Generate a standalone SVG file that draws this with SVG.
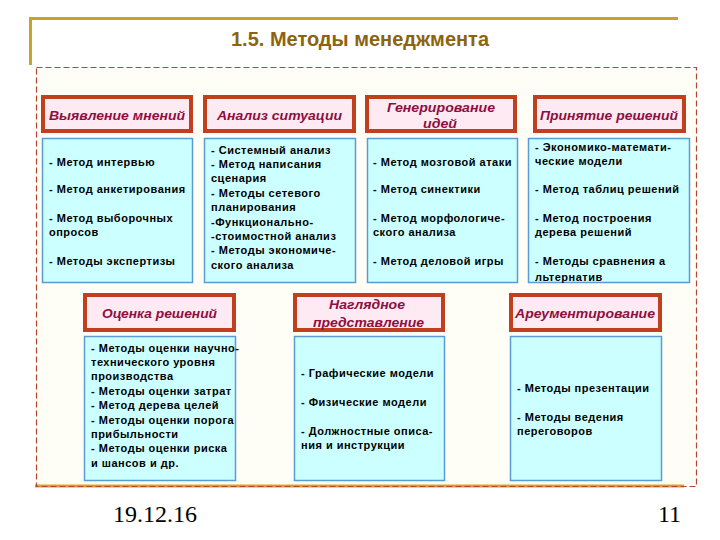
<svg xmlns="http://www.w3.org/2000/svg" width="720" height="540" viewBox="0 0 720 540">
<style>
.hdr{fill:#FDEAF2;stroke:#C0401E;stroke-width:4}
.hdt{font-family:"Liberation Sans",Arial,sans-serif;font-style:italic;font-weight:bold;font-size:13px;fill:#8E0E3E;text-anchor:middle}
.box{fill:#CCFFFF;stroke:#5B9BD5;stroke-width:1.5}
.bt{font-family:"Liberation Sans",Arial,sans-serif;font-weight:bold;font-size:11px;fill:#000;letter-spacing:0.5px}
.title{font-family:"Liberation Sans",Arial,sans-serif;font-weight:bold;font-size:20px;fill:#8C6410;text-anchor:middle}
.foot{font-family:"Liberation Serif","Times New Roman",serif;font-size:24px;fill:#000}
</style>
<rect width="720" height="540" fill="#FFFFFF"/>
<g id="frame">
<path d="M30.5 65 V18.5 H678" fill="none" stroke="#C9A227" stroke-width="3"/>
<rect x="36.5" y="67.5" width="660" height="419" fill="#FFFEF6" stroke="none"/>
<line x1="35" y1="486" x2="684" y2="486" stroke="#D9A030" stroke-width="3"/>
<rect x="36.5" y="67.5" width="660" height="419" fill="none" stroke="#B5472A" stroke-width="1.2" stroke-dasharray="6,3"/>
<text class="title" x="360" y="46" textLength="258" lengthAdjust="spacingAndGlyphs">1.5. Методы менеджмента</text>
</g>
<g id="connectors"/>
<g id="n1">
<rect class="hdr" x="43" y="97" width="148" height="34"/>
<text class="hdt" x="117" y="120" textLength="136" lengthAdjust="spacingAndGlyphs">Выявление мнений</text>
<rect class="box" x="42.5" y="138.5" width="150" height="144"/>
<text class="bt"><tspan x="49" y="166">- Метод интервью</tspan><tspan x="49" y="193">- Метод анкетирования</tspan><tspan x="49" y="222">- Метод выборочных</tspan><tspan x="49" y="236">опросов</tspan><tspan x="49" y="265">- Методы экспертизы</tspan></text>
</g>
<g id="n2">
<rect class="hdr" x="205" y="97" width="149" height="34"/>
<text class="hdt" x="279.5" y="120" textLength="125" lengthAdjust="spacingAndGlyphs">Анализ ситуации</text>
<rect class="box" x="204.5" y="138.5" width="151" height="144"/>
<text class="bt"><tspan x="211" y="154">- Системный анализ</tspan><tspan x="211" y="168">- Метод написания</tspan><tspan x="211" y="182">сценария</tspan><tspan x="211" y="197">- Методы сетевого</tspan><tspan x="211" y="211">планирования</tspan><tspan x="211" y="226">-Функционально-</tspan><tspan x="211" y="240">-стоимостной анализ</tspan><tspan x="211" y="254">- Методы экономиче-</tspan><tspan x="211" y="269">ского анализа</tspan></text>
</g>
<g id="n3">
<rect class="hdr" x="367" y="97" width="148" height="34"/>
<text class="hdt" x="441" y="111.5" textLength="108" lengthAdjust="spacingAndGlyphs">Генерирование</text>
<text class="hdt" x="440" y="127.5" textLength="34" lengthAdjust="spacingAndGlyphs">идей</text>
<rect class="box" x="367.5" y="138.5" width="150" height="144"/>
<text class="bt"><tspan x="373" y="166">- Метод мозговой атаки</tspan><tspan x="373" y="193">- Метод синектики</tspan><tspan x="373" y="222">- Метод морфологиче-</tspan><tspan x="373" y="236">ского анализа</tspan><tspan x="373" y="265">- Метод деловой игры</tspan></text>
</g>
<g id="n4">
<rect class="hdr" x="535" y="97" width="149" height="34"/>
<text class="hdt" x="609" y="120" textLength="138" lengthAdjust="spacingAndGlyphs">Принятие решений</text>
<rect class="box" x="528.5" y="138.5" width="161" height="144"/>
<text class="bt"><tspan x="535" y="151">- Экономико-математи-</tspan><tspan x="535" y="165">ческие модели</tspan><tspan x="535" y="193">- Метод таблиц решений</tspan><tspan x="535" y="222">- Метод построения</tspan><tspan x="535" y="236">дерева решений</tspan><tspan x="535" y="265">- Методы сравнения а</tspan><tspan x="535" y="281">льтернатив</tspan></text>
</g>
<g id="n5">
<rect class="hdr" x="85" y="295" width="149" height="35"/>
<text class="hdt" x="159.5" y="317.5" textLength="115" lengthAdjust="spacingAndGlyphs">Оценка решений</text>
<rect class="box" x="84.5" y="336.5" width="151" height="144"/>
<text class="bt"><tspan x="91" y="352">- Методы оценки научно-</tspan><tspan x="91" y="366">технического уровня</tspan><tspan x="91" y="380">производства</tspan><tspan x="91" y="395">- Методы оценки затрат</tspan><tspan x="91" y="409">- Метод дерева целей</tspan><tspan x="91" y="424">- Методы оценки порога</tspan><tspan x="91" y="438">прибыльности</tspan><tspan x="91" y="452">- Методы оценки риска</tspan><tspan x="91" y="467">и шансов и др.</tspan></text>
</g>
<g id="n6">
<rect class="hdr" x="295" y="295" width="148" height="35"/>
<text class="hdt" x="367" y="308.5" textLength="76" lengthAdjust="spacingAndGlyphs">Наглядное</text>
<text class="hdt" x="368.5" y="326.5" textLength="111" lengthAdjust="spacingAndGlyphs">представление</text>
<rect class="box" x="294.5" y="336.5" width="150" height="144"/>
<text class="bt"><tspan x="301" y="377">- Графические модели</tspan><tspan x="301" y="406">- Физические модели</tspan><tspan x="301" y="435">- Должностные описа-</tspan><tspan x="301" y="449">ния и инструкции</tspan></text>
</g>
<g id="n7">
<rect class="hdr" x="511" y="295" width="149" height="35"/>
<text class="hdt" x="585" y="317.5" textLength="140" lengthAdjust="spacingAndGlyphs">Ареументирование</text>
<rect class="box" x="510.5" y="336.5" width="151" height="144"/>
<text class="bt"><tspan x="517" y="392">- Методы презентации</tspan><tspan x="517" y="421">- Методы ведения</tspan><tspan x="517" y="435">переговоров</tspan></text>
</g>
<g id="footer">
<text class="foot" x="113" y="522">19.12.16</text>
<text class="foot" x="681" y="522" text-anchor="end">11</text>
</g>
</svg>
